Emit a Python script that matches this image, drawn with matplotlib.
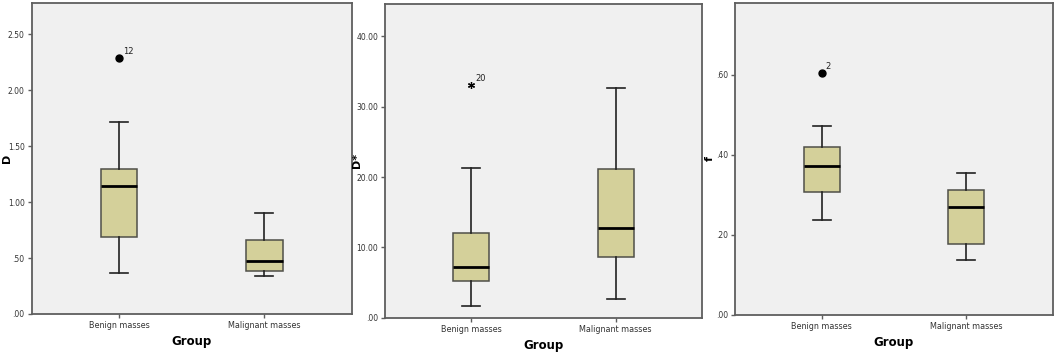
import matplotlib
matplotlib.use('Agg')
import matplotlib.pyplot as plt

# Box summaries: [low whisker, Q1, median, Q3, high whisker]
groups = ['Benign masses', 'Malignant masses']

d_benign = [0.37, 0.69, 1.146, 1.295, 1.714]
d_malignant = [0.34, 0.38, 0.476, 0.658, 0.904]
d_outliers = [[2.29], []]
d_outlier_ids = [['12'], []]

dstar_benign = [1.7, 5.26, 7.16, 12.07, 21.26]
dstar_malignant = [2.6, 8.67, 12.74, 21.1, 32.7]
dstar_outliers = [[33.1], []]
dstar_outlier_ids = [['20'], []]

f_benign = [0.236, 0.306, 0.3725, 0.419, 0.4725]
f_malignant = [0.1375, 0.1775, 0.269, 0.311, 0.354]
f_outliers = [[0.604], []]
f_outlier_ids = [['2'], []]

d_ticks = [0.0, 0.5, 1.0, 1.5, 2.0, 2.5]
d_ticklabels = ['.00', '.50', '1.00', '1.50', '2.00', '2.50']
dstar_ticks = [0, 10, 20, 30, 40]
dstar_ticklabels = ['.00', '10.00', '20.00', '30.00', '40.00']
f_ticks = [0.0, 0.2, 0.4, 0.6]
f_ticklabels = ['.00', '.20', '.40', '.60']

BG = '#f0f0f0'
FILL = '#d4d09a'
EDGE = '#4f4f48'
SPINE = '#5e5e5e'
NARROW = ['Liberation Sans Narrow', 'DejaVu Sans']


def stats(values, outliers, label):
    lo, q1, med, q3, hi = values
    return dict(label=label, whislo=lo, q1=q1, med=med, q3=q3, whishi=hi, fliers=outliers)


def panel(ax, benign, malignant, outliers, ids, ylim, ticks, ticklabels, ylabel, label_x, marker):
    bs = [stats(benign, outliers[0], groups[0]), stats(malignant, outliers[1], groups[1])]
    if marker == 'o':
        flier = dict(marker='o', markerfacecolor='black', markeredgecolor='black',
                     markersize=5, linestyle='none')
    else:
        # SPSS extreme value: small asterisk
        flier = dict(marker=(6, 2, 0), markerfacecolor='black', markeredgecolor='black',
                     markersize=5, markeredgewidth=0.9, linestyle='none')
    ax.bxp(bs, positions=[1, 2], widths=0.25, patch_artist=True, showfliers=True,
           boxprops=dict(facecolor=FILL, edgecolor=EDGE, linewidth=1.1),
           medianprops=dict(color='black', linewidth=2.0),
           whiskerprops=dict(color='#222222', linewidth=1.2),
           capprops=dict(color='#222222', linewidth=1.2),
           capwidths=0.125,
           flierprops=flier)
    for i, (vals, labs) in enumerate(zip(outliers, ids)):
        for v, t in zip(vals, labs):
            ax.annotate(t, (i + 1, v), xytext=(3, 3), textcoords='offset points',
                        fontsize=6, family=NARROW, color='#222222')
    ax.set_facecolor(BG)
    ax.set_xlim(0.4, 2.6)
    ax.set_ylim(*ylim)
    ax.set_yticks(ticks)
    ax.set_yticklabels(ticklabels, family=NARROW, fontsize=5.5)
    ax.set_xticks([1, 2])
    ax.set_xticklabels(groups, family=NARROW, fontsize=5.8)
    ax.tick_params(direction='out', length=3, width=1, color=SPINE, pad=2, labelcolor='#333333')
    for s in ax.spines.values():
        s.set_color(SPINE)
        s.set_linewidth(1.3)
    ax.set_ylabel(ylabel, fontsize=8, fontweight='bold')
    ax.yaxis.set_label_coords(label_x, 0.5)
    ax.set_xlabel('Group', fontsize=8.5, fontweight='bold', labelpad=4)


fig = plt.figure(figsize=(10.63, 3.54), dpi=100)
ax1 = fig.add_axes([0.0298, 0.113, 0.301, 0.8785])
ax2 = fig.add_axes([0.3622, 0.1026, 0.2982, 0.886])
ax3 = fig.add_axes([0.6914, 0.111, 0.2992, 0.8797])

panel(ax1, d_benign, d_malignant, d_outliers, d_outlier_ids, (0, 2.78),
      d_ticks, d_ticklabels, 'D', -0.062, 'o')
panel(ax2, dstar_benign, dstar_malignant, dstar_outliers, dstar_outlier_ids, (0, 44.6),
      dstar_ticks, dstar_ticklabels, 'D*', -0.073, '*')
panel(ax3, f_benign, f_malignant, f_outliers, f_outlier_ids, (0, 0.778),
      f_ticks, f_ticklabels, 'f', -0.064, 'o')

fig.savefig('out.png', dpi=100)
